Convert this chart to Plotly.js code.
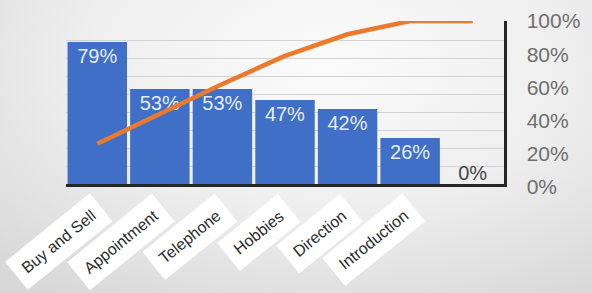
<!DOCTYPE html>
<html><head><meta charset="utf-8">
<script src="https://cdn.plot.ly/plotly-3.0.1.min.js"></script>
<style>
html,body{margin:0;padding:0;}
body{width:592px;height:293px;overflow:hidden;background:radial-gradient(ellipse 80% 95% at 55% 22%, #fbfbfb 0%, #efefef 50%, #d8d8d8 100%);}
#chart{width:592px;height:293px;}
</style></head><body><div id="chart"></div>
<script>
const categories = ['Buy and Sell','Appointment','Telephone','Hobbies','Direction','Introduction',''];
const barValues = [79, 53, 53, 47, 42, 26, 0];
const cumulativePct = [26, 44, 62, 79, 92, 100, 100];

const idx = categories.map((c, i) => i);
const zeroIdx = idx.filter(i => barValues[i] === 0);

const bars = {
  type: 'bar', x: idx, y: barValues, yaxis: 'y',
  marker: {color: '#3f6fc6'},
  text: barValues.map(v => v > 0 ? v + '%' : ''),
  textposition: 'inside',
  insidetextanchor: 'end',
  insidetextfont: {family: 'Liberation Sans, Arial, sans-serif', size: 20, color: '#e6ecf7'},
  textangle: 0,
  hoverinfo: 'none'
};
const zeroLabels = {
  type: 'scatter', mode: 'text', x: zeroIdx, y: zeroIdx.map(i => barValues[i]), yaxis: 'y',
  text: zeroIdx.map(i => barValues[i] + '%'),
  textposition: 'top center', cliponaxis: false,
  textfont: {family: 'Liberation Sans, Arial, sans-serif', size: 20, color: '#454545'},
  hoverinfo: 'none'
};
const line = {
  type: 'scatter', mode: 'lines', x: idx, y: cumulativePct, yaxis: 'y2',
  line: {color: '#ec7a2c', width: 4.5},
  hoverinfo: 'none'
};

const annotations = categories.map((c, i) => c ? {
  x: i, xref: 'x', y: -0.035, yref: 'paper', xanchor: 'right', yanchor: 'top',
  xshift: 16, text: c, textangle: -39, showarrow: false,
  bgcolor: '#ffffff', borderpad: 9,
  font: {family: 'Liberation Sans, Arial, sans-serif', size: 16, color: '#2a2a2a'}
} : null).filter(a => a);

const layout = {
  width: 592, height: 293,
  margin: {l: 66, r: 88, t: 21, b: 106},
  paper_bgcolor: 'rgba(0,0,0,0)',
  plot_bgcolor: 'rgba(0,0,0,0)',
  showlegend: false,
  bargap: 0.05,
  xaxis: {range: [-0.5, 6.5], showticklabels: false, showgrid: false, zeroline: false,
          showline: true, linecolor: '#262626', linewidth: 3, anchor: 'free', position: 0.012, ticks: ''},
  yaxis: {range: [-1.1, 90.55], tick0: 0, dtick: 10, showgrid: true, gridcolor: '#d2d2d2', gridwidth: 1,
          showticklabels: false, zeroline: false, ticks: ''},
  yaxis2: {overlaying: 'y', side: 'right', range: [0, 100], tick0: 0, dtick: 20, ticksuffix: '%',
           showgrid: false, zeroline: false, showline: true, linecolor: '#262626', linewidth: 2.5,
           ticks: '', ticklabelstandoff: 16,
           tickfont: {family: 'Liberation Sans, Arial, sans-serif', size: 21, color: '#6e6e6e'}},
  annotations: annotations
};

Plotly.newPlot('chart', [bars, line, zeroLabels], layout, {displayModeBar: false, staticPlot: true});
</script>
</body></html>
